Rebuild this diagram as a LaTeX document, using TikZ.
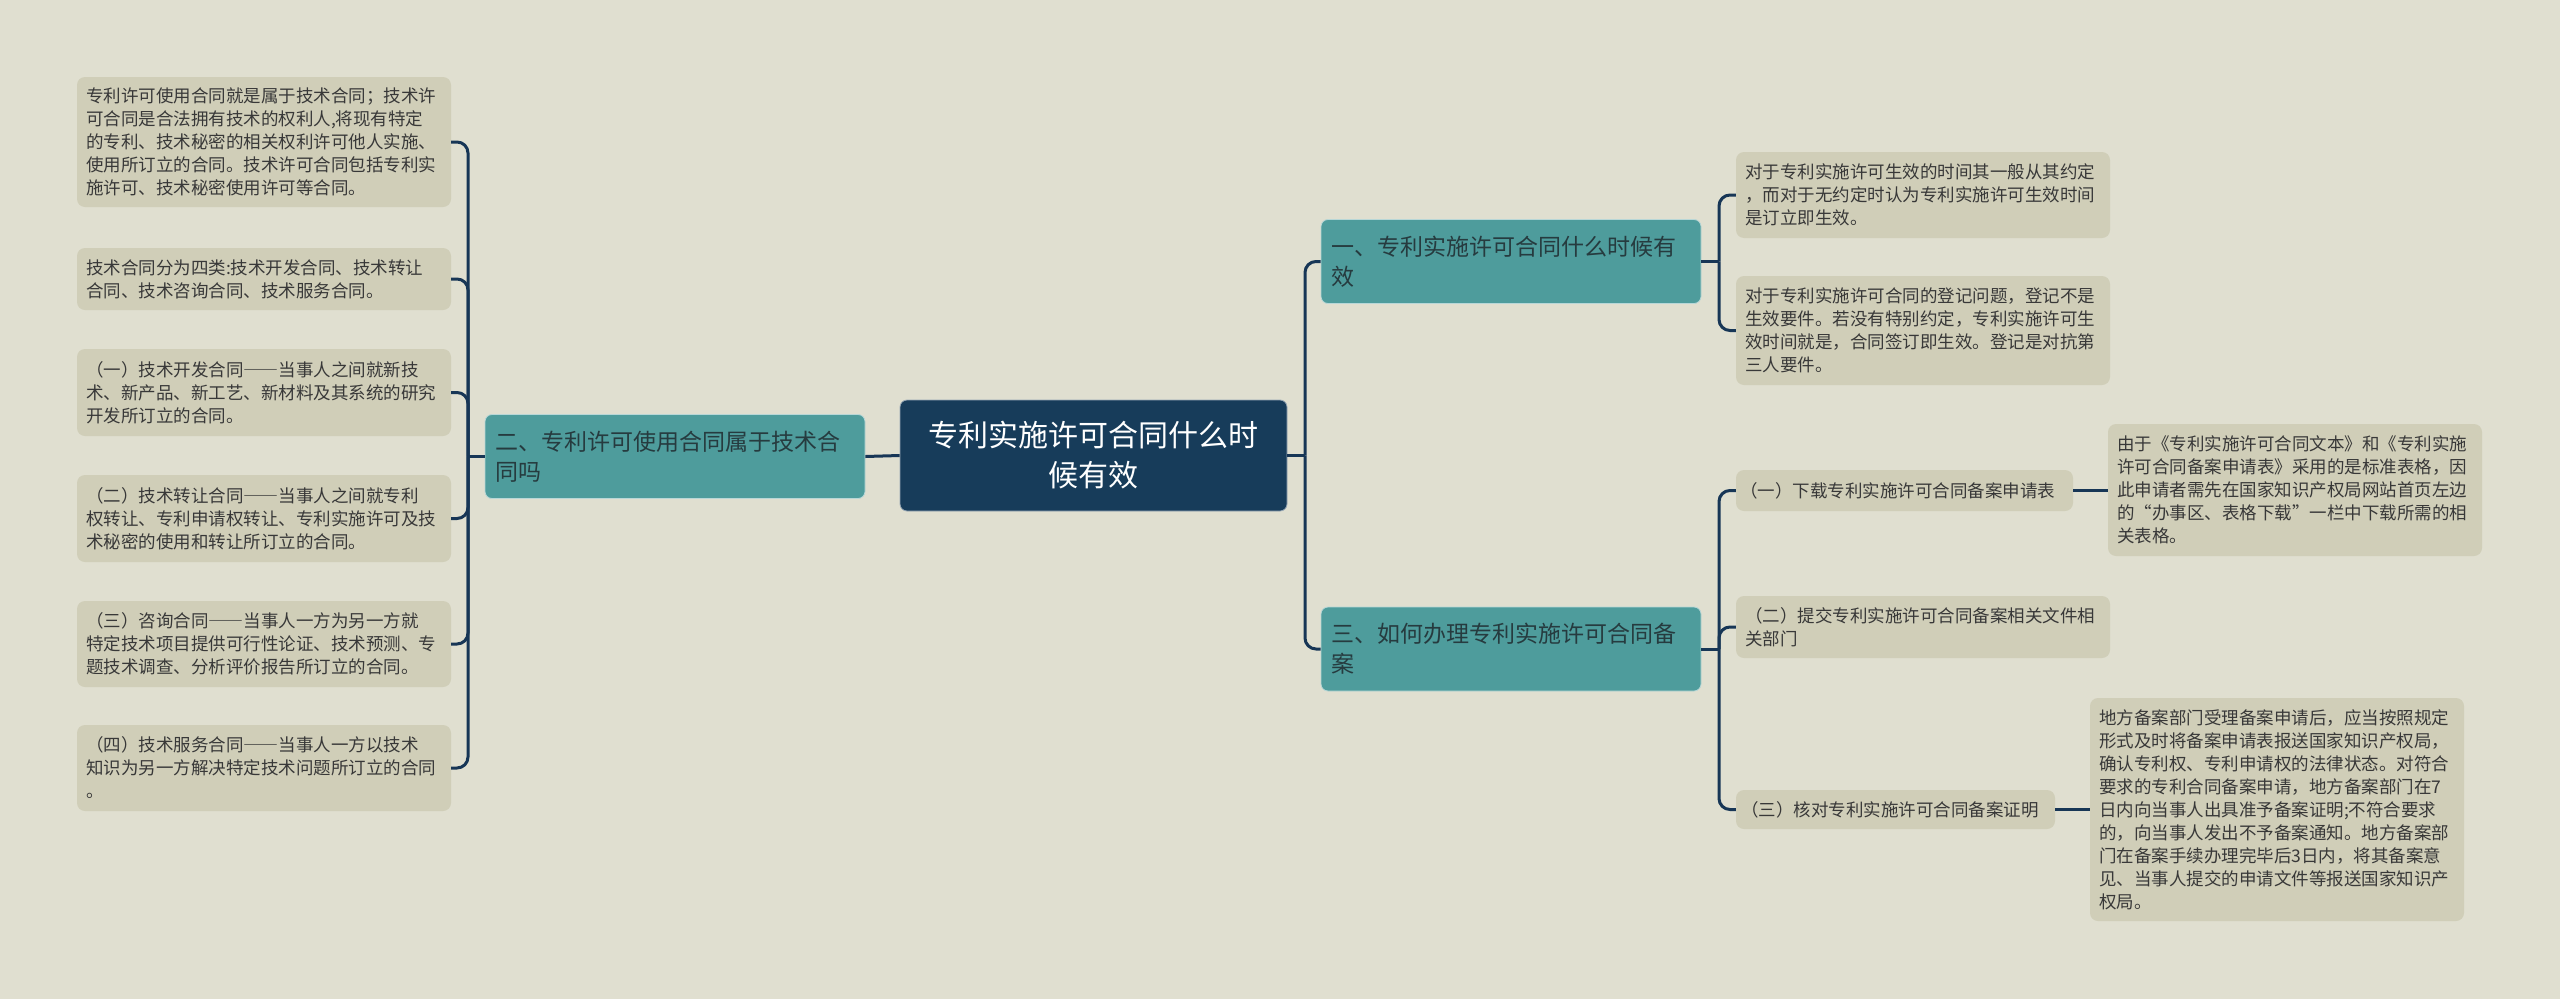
\documentclass[tikz,border=0pt]{standalone}
\usepackage{fontspec}
\setmainfont{Noto Sans CJK SC}
\usetikzlibrary{calc}
\definecolor{bgc}{HTML}{E0DFD0}
\definecolor{leafc}{HTML}{D0CEB8}
\definecolor{tealc}{HTML}{4E9C9C}
\definecolor{rootc}{HTML}{173C5A}
\definecolor{connc}{HTML}{173656}
\definecolor{leaftext}{HTML}{383838}
\definecolor{midtext}{HTML}{263B3F}
\newcommand\leaffont{\fontsize{17.5}{23}\selectfont}
\newcommand\midfont{\fontsize{23}{30}\selectfont}
\newcommand\rootfont{\fontsize{30}{40}\selectfont}
\newcommand\fwdash{{\addfontfeature{CharacterWidth=Full}——}}
\tikzset{
  leafbox/.style={fill=leafc, rounded corners=8pt, inner xsep=9pt, inner ysep=4pt,
    text width=#1, align=left, font=\leaffont, text=leaftext},
  midbox/.style={fill=tealc, draw=white!60!tealc, line width=0.8pt, rounded corners=7pt,
    inner xsep=10pt, inner ysep=4pt, text width=360pt, minimum height=84pt,
    align=left, font=\midfont, text=midtext},
  rootbox/.style={fill=rootc, draw=white!55!rootc, line width=0.8pt, rounded corners=7pt,
    inner xsep=10pt, text width=367pt, minimum height=111pt,
    align=center, font=\rootfont, text=white},
  conn/.style={draw=connc, line width=3pt, rounded corners=11pt}
}
\begin{document}
\begin{tikzpicture}[x=1pt,y=-1pt]
\useasboundingbox (0,0) rectangle (2560,999);
\fill[bgc] (0,0) rectangle (2560,999);

% root and main branches
\node[rootbox] (root) at (1093.5,455.5) {专利实施许可合同什么时\\候有效};
\node[midbox] (l2) at (675,456.5) {二、专利许可使用合同属于技术合\\同吗};
\node[midbox] (n1) at (1511,261.5) {一、专利实施许可合同什么时候有\\效};
\node[midbox] (n3) at (1511,649) {三、如何办理专利实施许可合同备\\案};

% left leaves
\node[leafbox=356pt, minimum height=130pt] (L1) at (264,142) {专利许可使用合同就是属于技术合同；技术许\\可合同是合法拥有技术的权利人,将现有特定\\的专利、技术秘密的相关权利许可他人实施、\\使用所订立的合同。技术许可合同包括专利实\\施许可、技术秘密使用许可等合同。};
\node[leafbox=356pt, minimum height=62pt] (L2) at (264,279) {技术合同分为四类:技术开发合同、技术转让\\合同、技术咨询合同、技术服务合同。};
\node[leafbox=356pt, minimum height=87pt] (L3) at (264,392.5) {（一）技术开发合同\fwdash 当事人之间就新技\\术、新产品、新工艺、新材料及其系统的研究\\开发所订立的合同。};
\node[leafbox=356pt, minimum height=87pt] (L4) at (264,518.5) {（二）技术转让合同\fwdash 当事人之间就专利\\权转让、专利申请权转让、专利实施许可及技\\术秘密的使用和转让所订立的合同。};
\node[leafbox=356pt, minimum height=86pt] (L5) at (264,644) {（三）咨询合同\fwdash 当事人一方为另一方就\\特定技术项目提供可行性论证、技术预测、专\\题技术调查、分析评价报告所订立的合同。};
\node[leafbox=356pt, minimum height=86pt] (L6) at (264,768) {（四）技术服务合同\fwdash 当事人一方以技术\\知识为另一方解决特定技术问题所订立的合同\\。};

% right leaves of 一
\node[leafbox=356pt, minimum height=86pt] (A) at (1923,195) {对于专利实施许可生效的时间其一般从其约定\\，而对于无约定时认为专利实施许可生效时间\\是订立即生效。};
\node[leafbox=356pt, minimum height=109pt] (B) at (1923,330.5) {对于专利实施许可合同的登记问题，登记不是\\生效要件。若没有特别约定，专利实施许可生\\效时间就是，合同签订即生效。登记是对抗第\\三人要件。};

% children of 三
\node[leafbox=329pt, inner xsep=4pt, minimum height=41pt] (C1) at (1904.5,490.5) {（一）下载专利实施许可合同备案申请表};
\node[leafbox=356pt, minimum height=132pt] (C1L) at (2295,490) {由于《专利实施许可合同文本》和《专利实施\\许可合同备案申请表》采用的是标准表格，因\\此申请者需先在国家知识产权局网站首页左边\\的“办事区、表格下载”一栏中下载所需的相\\关表格。};
\node[leafbox=356pt, minimum height=62pt] (C2) at (1923,627) {（二）提交专利实施许可合同备案相关文件相\\关部门};
\node[leafbox=309pt, inner xsep=5pt, minimum height=39pt] (C3) at (1895.5,809.5) {（三）核对专利实施许可合同备案证明};
\node[leafbox=356pt, minimum height=223pt] (C3L) at (2277,809.5) {地方备案部门受理备案申请后，应当按照规定\\形式及时将备案申请表报送国家知识产权局，\\确认专利权、专利申请权的法律状态。对符合\\要求的专利合同备案申请，地方备案部门在7\\日内向当事人出具准予备案证明;不符合要求\\的，向当事人发出不予备案通知。地方备案部\\门在备案手续办理完毕后3日内，将其备案意\\见、当事人提交的申请文件等报送国家知识产\\权局。};

% junctions
\coordinate (jL) at (468,456.5);
\coordinate (jR) at (1305,455.5);
\coordinate (jA) at (1719,261.5);
\coordinate (jC) at (1719,649);

% connectors
\draw[conn] (root.west) -- (l2.east);
\draw[conn] (l2.west) -- (jL);
\foreach \n in {L1,L2,L3,L4,L5,L6} { \draw[conn] (jL) |- (\n.east); }
\draw[conn] (root.east) -- (jR);
\draw[conn] (jR) |- (n1.west);
\draw[conn] (jR) |- (n3.west);
\draw[conn] (n1.east) -- (jA);
\draw[conn] (jA) |- (A.west);
\draw[conn] (jA) |- (B.west);
\draw[conn] (n3.east) -- (jC);
\draw[conn] (jC) |- (C1.west);
\draw[conn] (jC) |- (C2.west);
\draw[conn] (jC) |- (C3.west);
\draw[conn] (C1.east) -- (C1.east -| C1L.west);
\draw[conn] (C3.east) -- (C3.east -| C3L.west);
\end{tikzpicture}
\end{document}
